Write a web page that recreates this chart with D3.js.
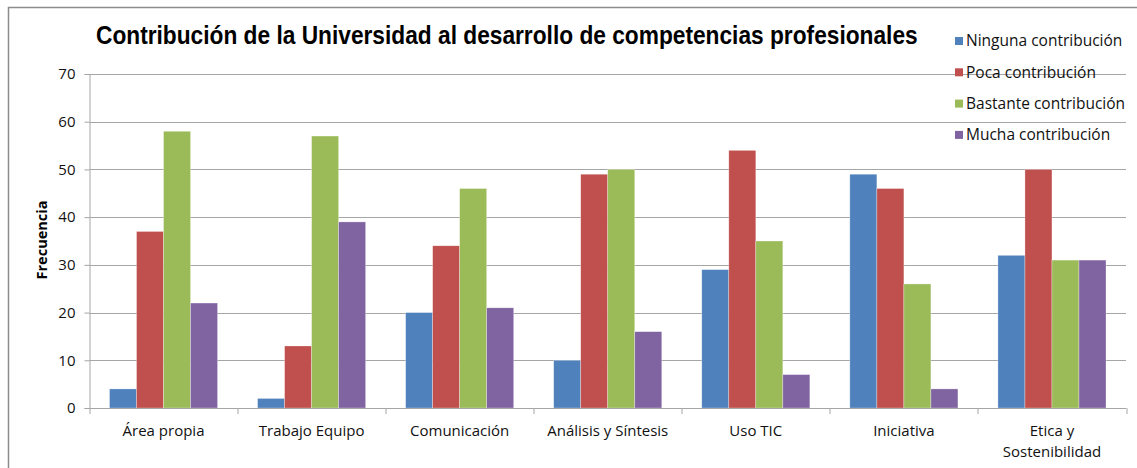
<!DOCTYPE html>
<html>
<head>
<meta charset="utf-8">
<script src="https://cdn.jsdelivr.net/npm/d3@7"></script>
<style>
  body { margin: 0; background: #fff; }
  svg { display: block; }
</style>
</head>
<body>
<div id="chart"></div>
<script>
// datos
const categories = ["Área propia", "Trabajo Equipo", "Comunicación", "Análisis y Síntesis", "Uso TIC", "Iniciativa", "Etica y Sostenibilidad"]
const seriesNames = ["Ninguna contribución", "Poca contribución", "Bastante contribución", "Mucha contribución"]
const ninguna = [4, 2, 20, 10, 29, 49, 32]
const poca = [37, 13, 34, 49, 54, 46, 50]
const bastante = [58, 57, 46, 50, 35, 26, 31]
const mucha = [22, 39, 21, 16, 7, 4, 31]
const yTicks = [0, 10, 20, 30, 40, 50, 60, 70]
const colors = ["#4F81BD", "#C0504D", "#9BBB59", "#8064A2"]

const seriesValues = [ninguna, poca, bastante, mucha]
const data = categories.map((c, i) => ({
    cat: c,
    values: seriesNames.map((s, j) => ({ key: s, value: seriesValues[j][i] }))
}))

const W = 1137, H = 468
const margin = {top: 74, right: 11, bottom: 60, left: 89.5}
const width = W - margin.left - margin.right
const height = 408 - margin.top

const svg = d3.select("#chart").append("svg")
    .attr("width", W)
    .attr("height", H)

// marco exterior
svg.append("rect")
    .attr("x", 8.5).attr("y", 7.5)
    .attr("width", 1300).attr("height", 600)
    .attr("fill", "none")
    .attr("stroke", "#8c8c8c")
    .attr("stroke-width", 1.5)

const g = svg.append("g")
    .attr("transform", "translate(" + margin.left + "," + margin.top + ")")

const x0 = d3.scaleBand().domain(categories).range([0, width]).padding(0)
const x1 = d3.scaleBand().domain(seriesNames)
    .range([20, x0.bandwidth() - 20]).padding(0)
const y = d3.scaleLinear().domain([0, 70]).range([height, 0])

// rejilla
g.append("g").selectAll("line")
    .data(yTicks.filter(d => d > 0))
    .enter().append("line")
    .attr("x1", 0).attr("x2", width)
    .attr("y1", d => Math.round(y(d)) + 0.5).attr("y2", d => Math.round(y(d)) + 0.5)
    .attr("stroke", "#a6a6a6")

// eje y
const yAxis = g.append("g")
    .call(d3.axisLeft(y).tickValues(yTicks).tickSize(5).tickPadding(9))
yAxis.select(".domain").attr("stroke", "#a6a6a6")
yAxis.selectAll(".tick line").attr("stroke", "#a6a6a6")
yAxis.selectAll("text")
    .style("font-family", "'Open Sans', sans-serif")
    .style("font-size", "15px")
    .attr("fill", "#111")

// barras
const groups = g.selectAll(".grp")
    .data(data)
    .enter().append("g")
    .attr("transform", d => "translate(" + x0(d.cat) + ",0)")

groups.selectAll("rect")
    .data(d => d.values)
    .enter().append("rect")
    .attr("x", d => x1(d.key))
    .attr("width", x1.bandwidth())
    .attr("y", d => y(d.value))
    .attr("height", d => height - y(d.value))
    .attr("fill", (d, i) => colors[i])
    .attr("stroke", "#fff")
    .attr("stroke-opacity", 0.5)
    .attr("stroke-width", 0.6)

// eje x
const xAxis = g.append("g")
    .attr("transform", "translate(0," + height + ")")
xAxis.append("line")
    .attr("x1", 0).attr("x2", width)
    .attr("y1", 0.5).attr("y2", 0.5)
    .attr("stroke", "#a6a6a6")
xAxis.selectAll(".tk")
    .data(d3.range(categories.length + 1))
    .enter().append("line")
    .attr("x1", i => Math.round(i * x0.step()) + 0.5)
    .attr("x2", i => Math.round(i * x0.step()) + 0.5)
    .attr("y1", 0).attr("y2", 6)
    .attr("stroke", "#a6a6a6")

const xLabels = xAxis.selectAll(".lbl")
    .data(categories)
    .enter().append("text")
    .attr("text-anchor", "middle")
    .attr("x", d => x0(d) + x0.bandwidth() / 2)
    .attr("y", 28)
    .style("font-family", "'Open Sans', sans-serif")
    .style("font-size", "15px")
    .attr("fill", "#111")
xLabels.each(function(d) {
    const parts = d === "Etica y Sostenibilidad" ? ["Etica y", "Sostenibilidad"] : [d]
    const t = d3.select(this)
    parts.forEach((p, k) => {
        t.append("tspan")
            .attr("x", x0(d) + x0.bandwidth() / 2)
            .attr("dy", k === 0 ? 0 : 21)
            .text(p)
    })
})

// titulo del eje y
svg.append("text")
    .attr("transform", "translate(47,240) rotate(-90)")
    .attr("text-anchor", "middle")
    .style("font-family", "'Open Sans', sans-serif")
    .style("font-weight", "bold")
    .style("font-size", "14.5px")
    .text("Frecuencia")

// titulo (comprimido en horizontal)
const title = svg.append("text")
    .attr("x", 0)
    .attr("y", 0)
    .style("font-family", "'Liberation Sans', Arial, sans-serif")
    .style("font-weight", "bold")
    .style("font-size", "26px")
    .text("Contribución de la Universidad al desarrollo de competencias profesionales")
const tw = title.node().getComputedTextLength()
title.attr("transform", "translate(96,44) scale(" + (822 / tw) + ",1)")

// leyenda
const legend = svg.append("g")
    .attr("transform", "translate(955,41)")
const items = legend.selectAll("g")
    .data(seriesNames)
    .enter().append("g")
    .attr("transform", (d, i) => "translate(0," + (i * 31.3) + ")")
items.append("rect")
    .attr("x", 0).attr("y", -4)
    .attr("width", 8).attr("height", 8)
    .attr("fill", (d, i) => colors[i])
items.append("text")
    .attr("x", 11)
    .attr("y", 0)
    .attr("dy", "0.35em")
    .style("font-family", "'Open Sans', sans-serif")
    .style("font-size", "15.5px")
    .attr("fill", "#111")
    .text(d => d)
</script>
</body>
</html>
